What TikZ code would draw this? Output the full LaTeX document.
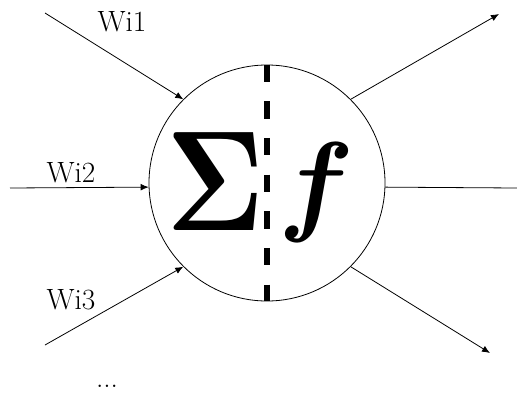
\documentclass[tikz,border=0pt]{standalone}
\usepackage{unicode-math}
\usetikzlibrary{arrows.meta}

\tikzset{
    wire/.style={line width=0.6pt, -{Latex[length=6pt,width=5pt]}},
    weight/.style={font=\fontsize{22}{24}\selectfont, inner sep=0pt}
}

\begin{document}
\begin{tikzpicture}[x=0.75pt, y=-0.75pt]
        \useasboundingbox (0,0) rectangle (517,393);

        % Neuron body
        \node[circle, draw, line width=0.6pt, minimum size=177pt, inner sep=0pt] (neuron) at (267,183) {};
        \draw[line width=4pt, dash pattern=on 13pt off 14.5pt] (neuron.north) -- (neuron.south);

        % Sum and activation
        \node[inner sep=0pt, font=\fontsize{107}{107}\selectfont] (sum) at (215.5,181.5) {\scalebox{0.83}[1]{$\symbf{\Sigma}$}};
        \node[inner sep=0pt, font=\fontsize{84}{84}\selectfont] (act) at (315,192) {$\symbfit{f}$};

        % Inputs
        \coordinate (x1) at (45,13);
        \coordinate (x2) at (10,188);
        \coordinate (x3) at (45,345);
        \draw[wire] (x1) -- (neuron.135);
        \draw[wire] (x2) -- (neuron.182.5);
        \draw[wire] (x3) -- (neuron.225);

        % Weights
        \node[weight] (w1) at (122,22) {Wi1};
        \node[weight] (w2) at (71,173) {Wi2};
        \node[weight] (w3) at (71,300) {Wi3};
        \node[weight] (more) at (107,386) {...};

        % Outputs
        \coordinate (y1) at (499,14);
        \coordinate (y2) at (517,188);
        \coordinate (y3) at (490,353);
        \draw[wire] (neuron.45) -- (y1);
        \draw[line width=0.6pt] (neuron.-2.5) -- (y2);
        \draw[wire] (neuron.-45) -- (y3);
\end{tikzpicture}
\end{document}
